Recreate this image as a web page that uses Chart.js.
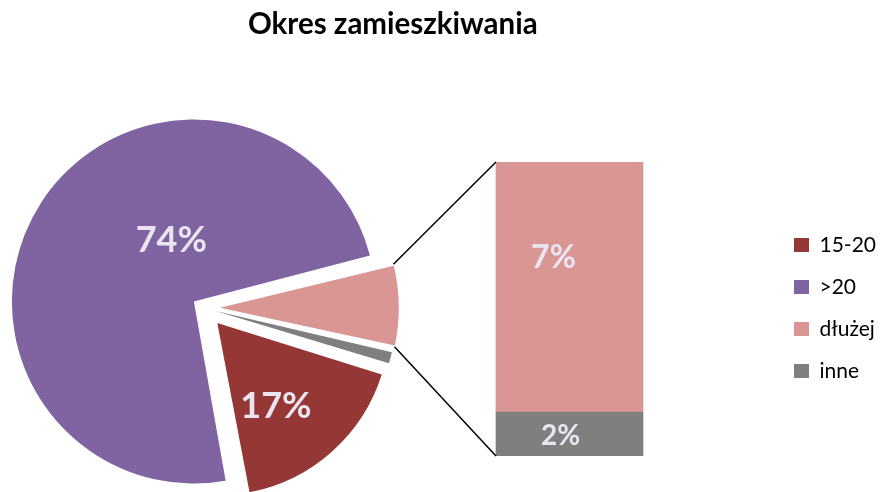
<!DOCTYPE html>
<html>
<head>
<meta charset="utf-8">
<script src="https://cdn.jsdelivr.net/npm/chart.js@4.4.0/dist/chart.umd.min.js"></script>
<style>
    html, body { margin: 0; padding: 0; background: #fff; overflow: hidden; }
    #wrap { position: relative; width: 883px; height: 492px; overflow: hidden; }
    #pieChart { position: absolute; left: -365px; top: 0; }
    #barChart { position: absolute; left: 248px; top: 0; }
</style>
</head>
<body>
<div id="wrap">
    <canvas id="pieChart" width="1248" height="492"></canvas>
    <canvas id="barChart" width="643" height="492"></canvas>
</div>
<script>
var chartTitle = 'Okres zamieszkiwania';
var categories = ['15-20', '>20', 'dłużej', 'inne'];
var shares = [17.2, 73.9, 7.4, 1.3];
var shareLabels = ['17%', '74%', '7%', '2%'];
// categories split out into the stacked bar, bottom to top
var barParts = [3, 2];

var colors = ['#953735', '#8064a2', '#d99694', '#7f7f7f'];
var labelColor = '#ebe5f1';

Chart.defaults.font.family = "Lato, 'Open Sans', sans-serif";

// legend box keeps a fixed width so the pie sits where it should
var legendWidth = {
    id: 'legendWidth',
    beforeInit: function (chart) {
        var fit = chart.legend.fit;
        chart.legend.fit = function () {
            fit.call(this);
            this.width = 110;
        };
    }
};

var pieLabels = {
    id: 'pieLabels',
    afterDatasetsDraw: function (chart) {
        'use strict';
        var ctx = chart.ctx;
        var arcs = chart.getDatasetMeta(0).data;
        // angle (deg) and distance (share of radius) from the pie centre
        var spots = { 0: [53.7, 0.715], 1: [244.1, 0.44] };

        ctx.save();
        ctx.fillStyle = labelColor;
        ctx.font = 'bold 36px Lato';
        ctx.textAlign = 'center';
        ctx.textBaseline = 'middle';
        Object.keys(spots).forEach(function (i) {
            var arc = arcs[i];
            var a = spots[i][0] * Math.PI / 180;
            var d = spots[i][1] * arc.outerRadius;
            ctx.fillText(shareLabels[i], arc.x + Math.cos(a) * d, arc.y + Math.sin(a) * d);
        });
        ctx.restore();
    }
};

var pieChart = new Chart(document.getElementById('pieChart'), {
    type: 'pie',
    data: {
        labels: categories,
        datasets: [{
            data: shares,
            backgroundColor: colors,
            borderWidth: 0,
            offset: [80, 48, 64, 48],
            rotation: 107.3,
            clip: false
        }]
    },
    options: {
        responsive: false,
        animation: false,
        radius: 170,
        layout: { padding: { top: 124 } },
        plugins: {
            tooltip: { enabled: false },
            legend: {
                position: 'right',
                labels: {
                    boxWidth: 15,
                    boxHeight: 14,
                    padding: 21,
                    color: '#000',
                    font: { size: 21 }
                }
            }
        }
    },
    plugins: [legendWidth, pieLabels]
});

var barLabels = {
    id: 'barLabels',
    afterDatasetsDraw: function (chart) {
        'use strict';
        var ctx = chart.ctx;
        var top = chart.getDatasetMeta(1).data[0];
        var bottom = chart.getDatasetMeta(0).data[0];

        ctx.save();
        ctx.fillStyle = labelColor;
        ctx.textAlign = 'center';
        ctx.textBaseline = 'middle';
        ctx.font = 'bold 32px Lato';
        ctx.fillText(shareLabels[barParts[1]], top.x - 16, top.y + 96);
        ctx.font = 'bold 28px Lato';
        ctx.fillText(shareLabels[barParts[0]], bottom.x - 9, (bottom.y + bottom.base) / 2 + 2);
        ctx.restore();
    }
};

var connectors = {
    id: 'connectors',
    afterDatasetsDraw: function (chart) {
        'use strict';
        var ctx = chart.ctx;
        var arc = pieChart.getDatasetMeta(0).data[barParts[1]];
        var start = arc.startAngle, end = arc.endAngle;
        var off = (arc.options.offset || 0) / 4;
        var mid = (start + end) / 2;
        var r = arc.outerRadius + off * (1 - Math.sin(Math.min(Math.PI, end - start)));
        var shift = pieChart.canvas.offsetLeft - chart.canvas.offsetLeft;
        var cx = arc.x + Math.cos(mid) * off + shift;
        var cy = arc.y + Math.sin(mid) * off;
        var top = chart.getDatasetMeta(1).data[0];
        var bottom = chart.getDatasetMeta(0).data[0];

        ctx.save();
        ctx.strokeStyle = '#000';
        ctx.lineWidth = 1.5;
        ctx.beginPath();
        ctx.moveTo(cx + Math.cos(start) * r, cy + Math.sin(start) * r);
        ctx.lineTo(top.x - top.width / 2, top.y);
        ctx.moveTo(cx + Math.cos(end) * r, cy + Math.sin(end) * r);
        ctx.lineTo(bottom.x - bottom.width / 2, bottom.base);
        ctx.stroke();
        ctx.restore();
    }
};

var barChart = new Chart(document.getElementById('barChart'), {
    type: 'bar',
    data: {
        labels: ['dłużej + inne'],
        datasets: barParts.map(function (i) {
            return {
                label: categories[i],
                data: [shares[i]],
                backgroundColor: colors[i],
                borderWidth: 0,
                barThickness: 147
            };
        })
    },
    options: {
        responsive: false,
        animation: false,
        layout: { padding: { bottom: 36 } },
        scales: {
            x: { display: false, stacked: true },
            y: {
                display: false,
                stacked: true,
                min: 0,
                max: shares[barParts[0]] + shares[barParts[1]]
            }
        },
        plugins: {
            legend: { display: false },
            tooltip: { enabled: false },
            title: {
                display: true,
                text: chartTitle,
                align: 'start',
                color: '#000',
                font: { size: 29.5, weight: 'bold' },
                padding: { top: 6.3, bottom: 120.3 }
            }
        }
    },
    plugins: [barLabels, connectors]
});
</script>
</body>
</html>
